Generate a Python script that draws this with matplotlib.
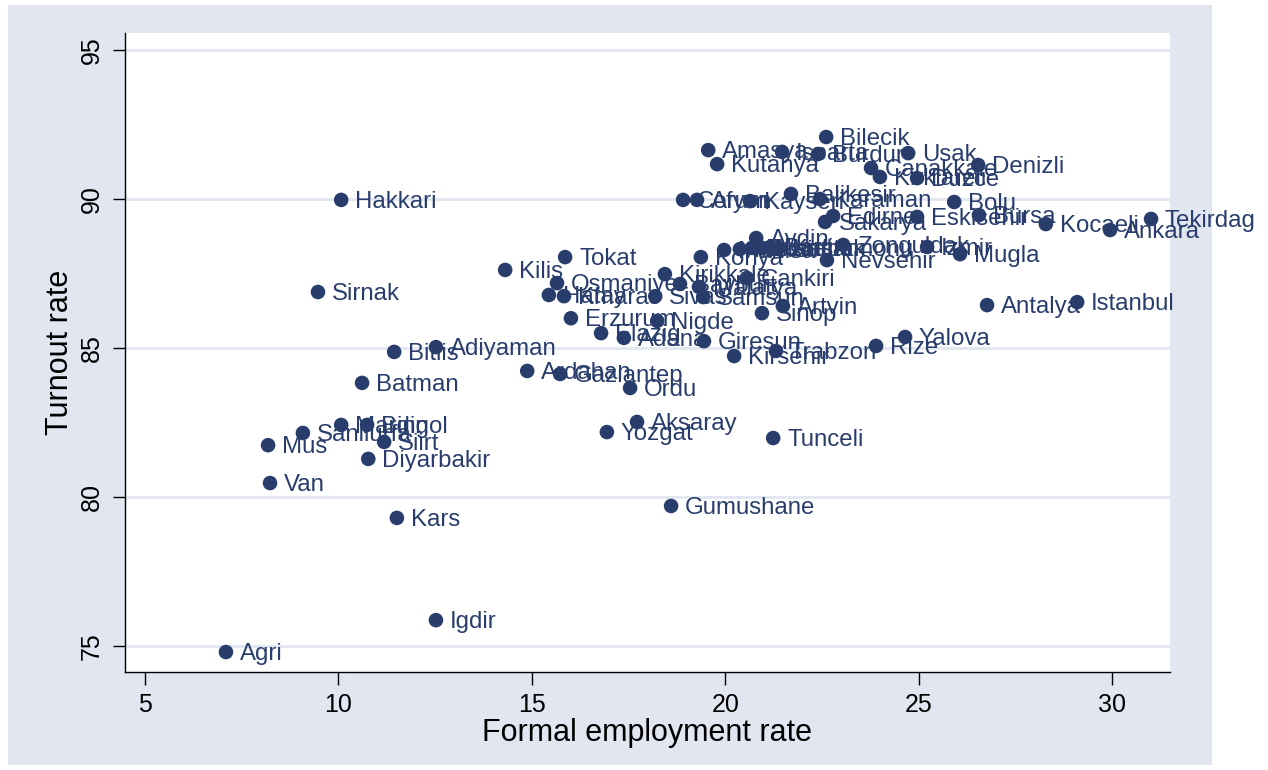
import matplotlib.pyplot as plt
from matplotlib.patches import Rectangle

# provinces, formal employment rate, turnout rate
province = ['Agri', 'Igdir', 'Kars', 'Van', 'Mus', 'Sanliurfa', 'Mardin', 'Bingol',
            'Siirt', 'Diyarbakir', 'Batman', 'Bitlis', 'Adiyaman', 'Sirnak', 'Hakkari',
            'Kilis', 'Tokat', 'Osmaniye', 'Hatay', 'Kmaras', 'Erzurum', 'Elazig', 'Adana',
            'Nigde', 'Sivas', 'Kirikkale', 'Giresun', 'Kirsehir', 'Trabzon', 'Rize',
            'Yalova', 'Antalya', 'Istanbul', 'Ardahan', 'Gaziantep', 'Ordu', 'Aksaray',
            'Yozgat', 'Tunceli', 'Gumushane', 'Sinop', 'Artvin', 'Cankiri', 'Bayburt',
            'Malatya', 'Samsun', 'Konya', 'Aydin', 'Manisa', 'Mersin', 'Erzincan',
            'Karabuk', 'Bartin', 'Kastamonu', 'Nevsehir', 'Zonguldak', 'Izmir', 'Mugla',
            'Corum', 'Afyon', 'Kayseri', 'Balikesir', 'Karaman', 'Sakarya', 'Edirne',
            'Eskisehir', 'Bursa', 'Bolu', 'Kocaeli', 'Ankara', 'Tekirdag', 'Usak',
            'Denizli', 'Canakkale', 'Kirklareli', 'Duzce', 'Burdur', 'Isparta',
            'Kutahya', 'Amasya', 'Bilecik']
employment = [7.09, 12.52, 11.51, 8.23, 8.18, 9.08, 10.07, 10.74,
              11.18, 10.77, 10.61, 11.44, 12.52, 9.47, 10.07,
              14.31, 15.86, 15.65, 15.44, 15.83, 16.01, 16.79, 17.38,
              18.24, 18.19, 18.44, 19.45, 20.23, 21.31, 23.90,
              24.65, 26.77, 29.10, 14.88, 15.73, 17.54, 17.72,
              16.94, 21.24, 18.60, 20.95, 21.49, 20.56, 18.83,
              19.32, 19.43, 19.37, 20.80, 19.97, 20.38, 20.69,
              20.95, 21.16, 21.37, 22.63, 23.05, 25.22, 26.07,
              18.91, 19.27, 20.64, 21.70, 22.45, 22.58, 22.79,
              24.96, 26.56, 25.92, 28.29, 29.95, 31.01, 24.73,
              26.54, 23.77, 24.00, 24.96, 22.40, 21.47,
              19.79, 19.56, 22.61]
turnout = [74.80, 75.87, 79.30, 80.47, 81.74, 82.15, 82.42, 82.42,
           81.85, 81.28, 83.83, 84.87, 85.03, 86.88, 89.97,
           87.62, 88.05, 87.18, 86.78, 86.74, 86.00, 85.50, 85.34,
           85.91, 86.74, 87.48, 85.23, 84.73, 84.90, 85.07,
           85.37, 86.44, 86.54, 84.23, 84.13, 83.66, 82.52,
           82.18, 81.98, 79.70, 86.17, 86.41, 87.35, 87.15,
           87.05, 86.71, 88.05, 88.69, 88.29, 88.32, 88.36,
           88.36, 88.39, 88.36, 87.95, 88.46, 88.39, 88.15,
           89.97, 89.97, 89.93, 90.17, 90.00, 89.23, 89.43,
           89.40, 89.46, 89.90, 89.16, 88.96, 89.33, 91.54,
           91.14, 91.04, 90.74, 90.70, 91.51, 91.58,
           91.17, 91.64, 92.08]
xticks = [5, 10, 15, 20, 25, 30]
yticks = [75, 80, 85, 90, 95]

navy = '#283d6c'
bg = '#e1e6f0'

plt.rcParams['font.family'] = ['Liberation Sans', 'DejaVu Sans']
fig = plt.figure(figsize=(12.68, 7.7), dpi=100)
fig.patch.set_facecolor('white')
# graph region (stata style)
fig.add_artist(Rectangle((8 / 1268, 5 / 770), 1204 / 1268, 760 / 770,
                         transform=fig.transFigure, facecolor=bg,
                         edgecolor='none', zorder=-10))

ax = fig.add_axes([125 / 1268, 1 - 672 / 770, 1045 / 1268, 639 / 770])
ax.set_facecolor('white')
ax.set_xlim(4.48, 31.5)
ax.set_ylim(74.13, 95.57)

for yv in yticks:
    ax.axhline(yv, color=bg, lw=2, zorder=1)

ax.scatter(employment, turnout, s=110, color=navy, edgecolors='none', zorder=3)
for name, xv, yv in zip(province, employment, turnout):
    ax.annotate(name, (xv, yv), xytext=(10, -1.5), textcoords='offset points',
                va='center', ha='left', fontsize=17.3, color=navy, zorder=4)

ax.set_xticks(xticks)
ax.set_yticks(yticks)
ax.tick_params(axis='x', labelsize=18, length=9, width=1, pad=6)
ax.tick_params(axis='y', labelsize=18, length=9, width=1, pad=6, labelrotation=90)
for lab in ax.get_yticklabels():
    lab.set_va('center')
ax.spines['top'].set_visible(False)
ax.spines['right'].set_visible(False)
ax.spines['left'].set_linewidth(1)
ax.spines['bottom'].set_linewidth(1)

ax.set_xlabel('Formal employment rate', fontsize=22, labelpad=1)
ax.set_ylabel('Turnout rate', fontsize=22, labelpad=4)

fig.savefig('out.png', dpi=100, facecolor=fig.get_facecolor())
